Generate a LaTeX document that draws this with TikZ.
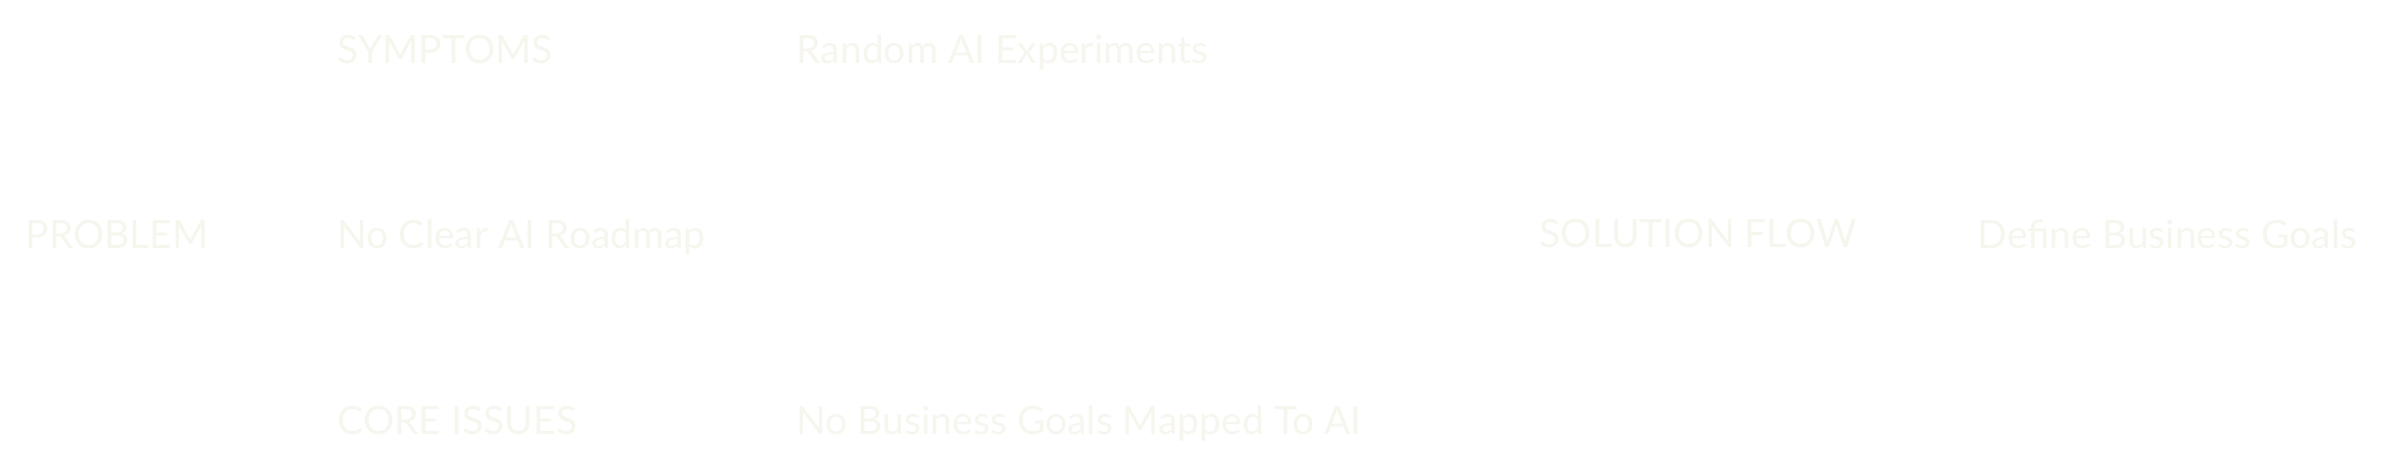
\documentclass[tikz,border=0pt]{standalone}
\usepackage{fontspec}
\setmainfont{Lato}
\usepackage{xcolor}
\usepackage{tikz}
\usetikzlibrary{positioning}
\definecolor{paleink}{RGB}{247, 246, 238}

\begin{document}
\begin{tikzpicture}[x=0.1mm, y=-0.1mm]
    \tikzstyle{label} = [inner sep=0pt, anchor=base west, text=paleink, font=\fontsize{11.1pt}{13pt}\selectfont]

    \useasboundingbox[fill=white] (0,0) rectangle (2401,470);

    % left column
    \node[label] (problem) at (25,248) {PROBLEM};

    % headings and items
    \node[label] (symptoms) at (337,63) {SYMPTOMS};
    \node[label] (roadmap) at (337,248) {No Clear AI Roadmap};
    \node[label] (core) at (337,434) {CORE ISSUES};
    \node[label] (random) at (796,63) {Random AI Experiments};
    \node[label] (goalsmap) at (796,434) {No Business Goals Mapped To AI};

    % solution side
    \node[label] (solution) at (1539,247) {SOLUTION FLOW};
    \node[label] (define) at (1977,248) {Define Business Goals};
\end{tikzpicture}
\end{document}
